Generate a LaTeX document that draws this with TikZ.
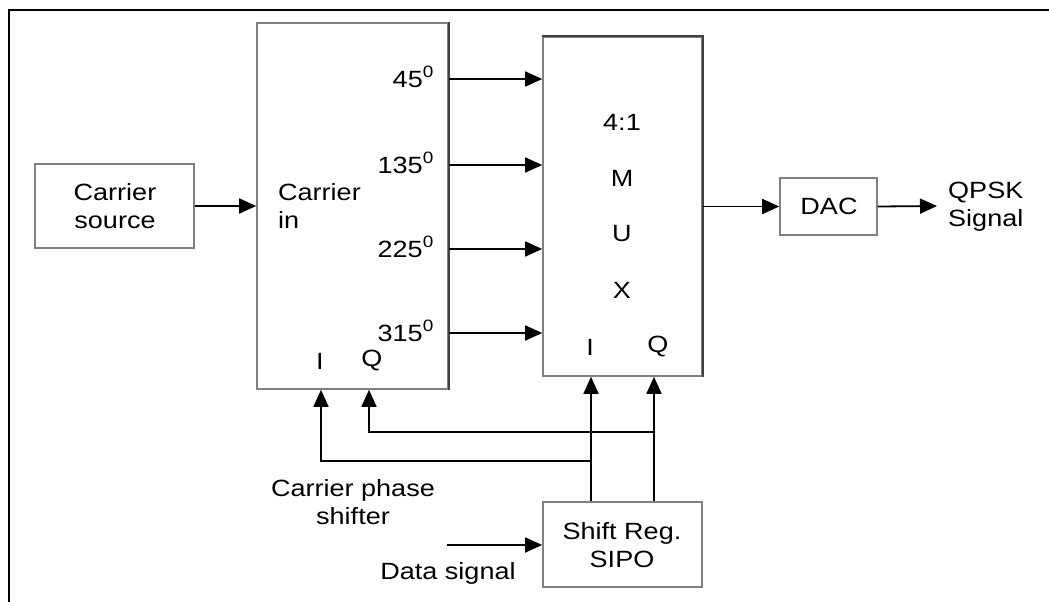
\documentclass[tikz,border=0pt]{standalone}
\usepackage{fontspec}
\setmainfont{Liberation Sans}[FakeStretch=1.15]
\usetikzlibrary{arrows.meta}
\begin{document}
\begin{tikzpicture}[x=1pt,y=-1pt,
  box/.style={draw=black!50,line width=1.6pt,rectangle,inner sep=0pt},
  lbl/.style={inner sep=0pt,font=\fontsize{23.5}{28}\selectfont,align=center},
  arr/.style={draw=black,line width=1.8pt,-{Triangle[length=17pt,width=15pt]}},
  wire/.style={draw=black,line width=1.8pt}]
\useasboundingbox (0,0) rectangle (1049,602);
% frame
\draw[line width=2pt] (9,602) -- (9,10) -- (1049,10);
% boxes
\node[box,minimum width=159pt,minimum height=84pt] (cs) at (114.5,206) {};
\node[box,minimum width=191pt,minimum height=366pt] (ci) at (352.5,206) {};
\node[box,minimum width=159pt,minimum height=339pt] (mux) at (622.5,206.5) {};
\node[box,minimum width=97pt,minimum height=57pt] (dac) at (828.5,206.5) {};
\node[box,minimum width=159pt,minimum height=85pt] (sr) at (622.5,544.5) {};
\draw[black!75,line width=1.6pt] (ci.north east) -- (ci.south east);
\draw[black!75,line width=1.6pt] (mux.north west) -- (mux.north east) -- (mux.south east);
% texts
\node[lbl] (tcs) at (115,206) {Carrier\\source};
\node[lbl,align=left,anchor=west] (tci) at (278,206) {Carrier\\in};
\node[lbl,anchor=base east] (t45) at (434,87) {45\textsuperscript{0}};
\node[lbl,anchor=base east] (t135) at (434,173) {135\textsuperscript{0}};
\node[lbl,anchor=base east] (t225) at (434,257) {225\textsuperscript{0}};
\node[lbl,anchor=base east] (t315) at (434,341) {315\textsuperscript{0}};
\node[lbl] (tI) at (320,361) {I};
\node[lbl] (tQ) at (372,361) {Q};
\node[lbl] (t41) at (622,122) {4:1};
\node[lbl] (tM) at (622,178) {M};
\node[lbl] (tU) at (622,234) {U};
\node[lbl] (tX) at (622,290) {X};
\node[lbl] (tmI) at (590,347) {I};
\node[lbl] (tmQ) at (658,347) {Q};
\node[lbl] (tdac) at (829,206) {DAC};
\node[lbl,align=left,anchor=west] (tqpsk) at (948,207) {QPSK\\Signal};
\node[lbl] (tsr) at (622,545) {Shift Reg.\\SIPO};
\node[lbl] (tcps) at (353,502) {Carrier phase\\shifter};
\node[lbl] (tds) at (448,573) {Data signal};
% coordinates
\coordinate (y45) at (0,79);
\coordinate (y135) at (0,165);
\coordinate (y225) at (0,249);
\coordinate (y315) at (0,333);
\coordinate (xmI) at (591,0);
\coordinate (xmQ) at (654,0);
\coordinate (xcI) at (321,0);
\coordinate (xcQ) at (369,0);
\coordinate (jI) at (591,461);
\coordinate (jQ) at (654,432);
\coordinate (qend) at (937,206);
\coordinate (dstart) at (447,545);
% connectors
\draw[arr] (cs.east) -- (ci.west |- cs.east);
\draw[arr] (y45 -| ci.east) -- (y45 -| mux.west);
\draw[arr] (y135 -| ci.east) -- (y135 -| mux.west);
\draw[arr] (y225 -| ci.east) -- (y225 -| mux.west);
\draw[arr] (y315 -| ci.east) -- (y315 -| mux.west);
\draw[arr] (mux.east |- dac.west) -- (dac.west);
\draw[arr] (dac.east) -- (qend);
\draw[arr] (dstart) -- (sr.west |- dstart);
\draw[arr] (sr.north -| xmI) -- (mux.south -| xmI);
\draw[arr] (sr.north -| xmQ) -- (mux.south -| xmQ);
\draw[arr] (jI) -| (ci.south -| xcI);
\draw[arr] (jQ) -| (ci.south -| xcQ);
\end{tikzpicture}
\end{document}
